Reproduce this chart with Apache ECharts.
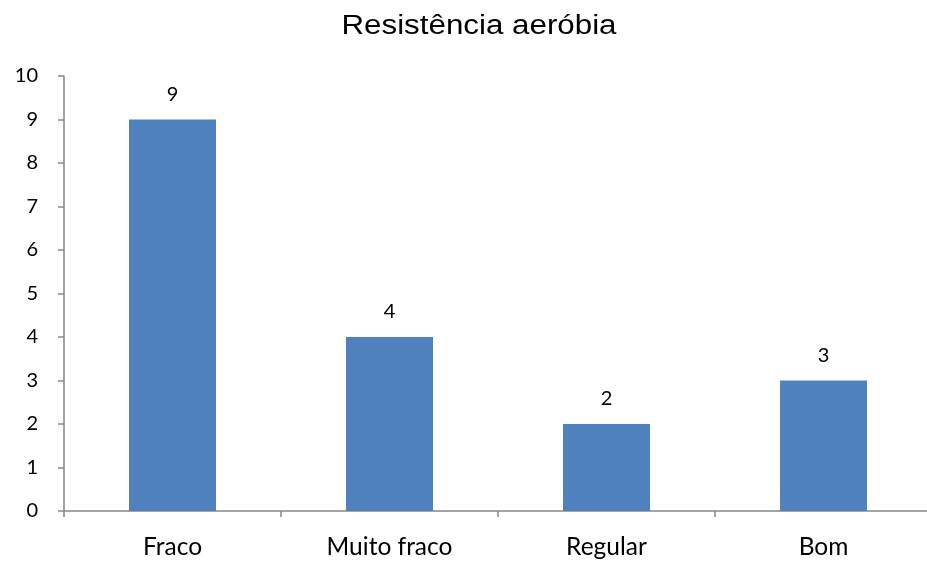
<!DOCTYPE html>
<html>
<head>
<meta charset="utf-8">
<script src="https://cdn.jsdelivr.net/npm/echarts@6/dist/echarts.min.js"></script>
<style>
html,body{margin:0;padding:0;background:#fff;overflow:hidden;}
#wrap{width:927px;height:566px;overflow:hidden;}
#chart{width:940px;height:566px;}
</style>
</head>
<body>
<div id="wrap"><div id="chart"></div></div>
<script>
// Aerobic endurance classification counts
const categories = ['Fraco', 'Muito fraco', 'Regular', 'Bom'];
const counts = [9, 4, 2, 3];
const yTicks = [0, 10, 1]; // min, max, interval
const chartTitle = 'Resistência aeróbia';

const labelFont = 'Lato, "Open Sans", sans-serif';
const chart = echarts.init(document.getElementById('chart'));
chart.setOption({
  animation: false,
  backgroundColor: '#fff',
  graphic: [{
    type: 'text',
    x: 479,
    y: 26.5,
    scaleX: 1.16,
    style: {
      text: chartTitle,
      font: '27px "Liberation Sans", Arial, sans-serif',
      fill: '#000',
      textAlign: 'center',
      textVerticalAlign: 'middle'
    }
  }],
  // the category axis runs a little past the visible right edge
  grid: { left: 64, right: 8, top: 76, bottom: 55, containLabel: false },
  xAxis: {
    type: 'category',
    data: categories,
    axisLine: { lineStyle: { color: '#868686', width: 1.5 } },
    axisTick: { show: true, length: 6, alignWithLabel: false, lineStyle: { color: '#868686', width: 1.5 } },
    axisLabel: { margin: 24, fontFamily: labelFont, fontSize: 24.5, color: '#000' },
    splitLine: { show: false }
  },
  yAxis: {
    type: 'value',
    min: yTicks[0],
    max: yTicks[1],
    interval: yTicks[2],
    axisLine: { show: true, lineStyle: { color: '#868686', width: 1.5 } },
    axisTick: { show: true, length: 6, lineStyle: { color: '#868686', width: 1.5 } },
    axisLabel: { margin: 26, fontFamily: labelFont, fontSize: 20, color: '#000' },
    splitLine: { show: false }
  },
  series: [{
    type: 'bar',
    data: counts,
    barWidth: 87,
    itemStyle: { color: '#4F81BD' },
    label: {
      show: true,
      position: 'top',
      distance: 15,
      fontFamily: labelFont,
      fontSize: 20,
      color: '#000'
    }
  }]
});
</script>
</body>
</html>
